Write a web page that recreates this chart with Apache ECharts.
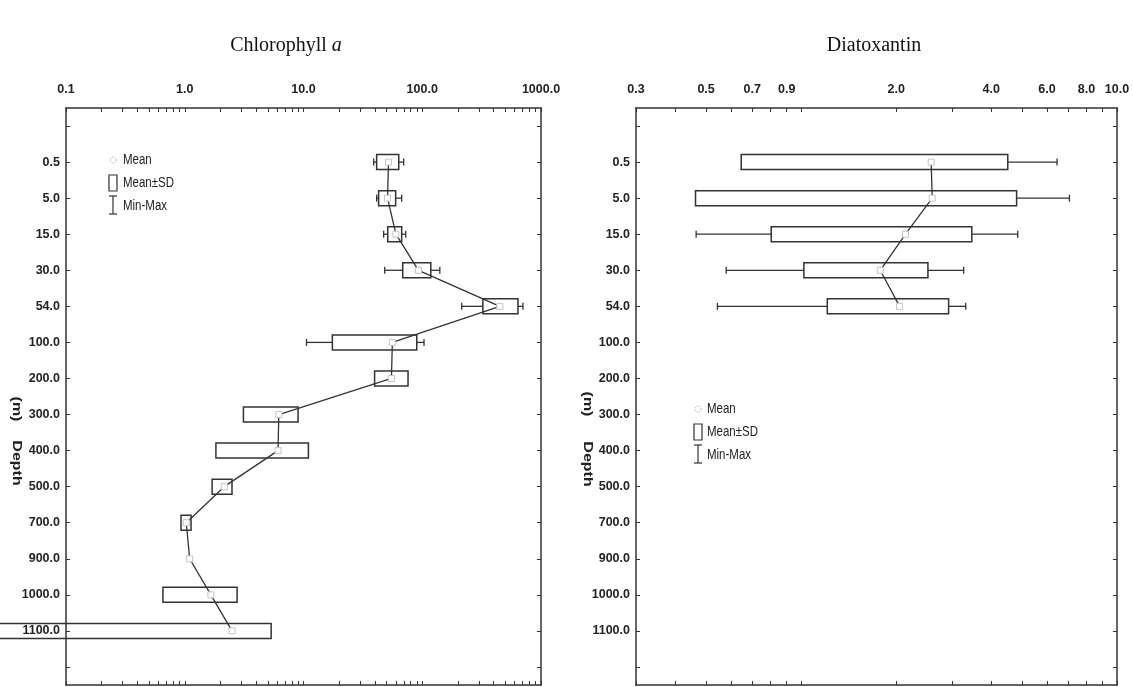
<!DOCTYPE html>
<html>
<head>
<meta charset="utf-8">
<title>Chlorophyll a / Diatoxantin</title>
<script src="https://cdn.jsdelivr.net/npm/echarts@6.0.0/dist/echarts.min.js"></script>
<style>
	html, body { margin: 0; padding: 0; background: #fff; }
	#main { width: 1133px; height: 687px; }
</style>
</head>
<body>
<div id="main"></div>
<script>
/* depth categories (first and last are empty slots) */
var depthLabels = ['', '0.5', '5.0', '15.0', '30.0', '54.0', '100.0', '200.0', '300.0', '400.0', '500.0', '700.0', '900.0', '1000.0', '1100.0', ''];

/* Chlorophyll a */
var chlMean   = [52, 51, 60, 93, 450, 56, 55, 6.2, 6.1, 2.15, 1.03, 1.10, 1.66, 2.50];
var chlSdLow  = [41.3, 42.9, 51.2, 68.5, 324, 17.5, 39.7, 3.12, 1.83, 1.70, 0.93, null, 0.655, 0.02];
var chlSdHigh = [63.4, 59.7, 67.1, 118, 640, 89.9, 75.9, 9.0, 11.0, 2.50, 1.13, null, 2.76, 5.34];
var chlMin    = [39.0, 41.3, 47.3, 48.3, 215, 10.6, null, null, null, null, null, null, null, null];
var chlMax    = [69.8, 67.1, 72.6, 140.6, 705, 103.5, null, null, null, null, null, null, null, null];

/* Diatoxantin */
var diaMean   = [2.58, 2.60, 2.14, 1.78, 2.05];
var diaSdLow  = [0.646, 0.463, 0.804, 1.02, 1.21];
var diaSdHigh = [4.51, 4.81, 3.47, 2.52, 2.93];
var diaMin    = [null, null, 0.465, 0.579, 0.543];
var diaMax    = [6.46, 7.07, 4.85, 3.27, 3.32];

/* tick marks and tick labels */
var chlTicks = [0.1, 0.2, 0.3, 0.4, 0.5, 0.6, 0.7, 0.8, 0.9, 1, 2, 3, 4, 5, 6, 7, 8, 9, 10, 20, 30, 40, 50, 60, 70, 80, 90, 100, 200, 300, 400, 500, 600, 700, 800, 900, 1000];
var chlTickLabels = [0.1, 1, 10, 100, 1000];
var diaTicks = [0.3, 0.4, 0.5, 0.6, 0.7, 0.8, 0.9, 1, 2, 3, 4, 5, 6, 7, 8, 9, 10];
var diaTickLabels = [0.3, 0.5, 0.7, 0.9, 2, 4, 6, 8, 10];

var sans = "'Liberation Sans', Arial, sans-serif";
var serif = "'Liberation Serif', 'Times New Roman', serif";
var ink = '#333';

function rows(lo, hi, mn, mx) {
	var out = [];
	for (var i = 0; i < lo.length; i++) {
		if (lo[i] == null) continue;
		out.push([i + 1, lo[i], hi[i], mn[i], mx[i]]);
	}
	return out;
}

function meanRows(m) {
	return m.map(function (v, i) { return [v, i + 1]; });
}

/* box = mean±SD, whiskers = min-max */
function renderBox(params, api) {
	var cat = api.value(0);
	var y = api.coord([1, cat])[1];
	var lo = api.coord([api.value(1), cat])[0];
	var hi = api.coord([api.value(2), cat])[0];
	var mn = api.value(3), mx = api.value(4);
	var h = 7.5, c = 3.5;
	var st = { stroke: ink, lineWidth: 1.3 };
	var kids = [{
		type: 'rect',
		shape: { x: lo, y: y - h, width: hi - lo, height: 2 * h },
		style: { fill: 'none', stroke: ink, lineWidth: 1.5 }
	}];
	if (!isNaN(mn) && mn != null) {
		var xm = api.coord([mn, cat])[0];
		kids.push({ type: 'line', shape: { x1: xm, y1: y, x2: lo, y2: y }, style: st });
		kids.push({ type: 'line', shape: { x1: xm, y1: y - c, x2: xm, y2: y + c }, style: st });
	}
	if (!isNaN(mx) && mx != null) {
		var xx = api.coord([mx, cat])[0];
		kids.push({ type: 'line', shape: { x1: hi, y1: y, x2: xx, y2: y }, style: st });
		kids.push({ type: 'line', shape: { x1: xx, y1: y - c, x2: xx, y2: y + c }, style: st });
	}
	return { type: 'group', children: kids };
}

function fmt(v) { return Number(v).toFixed(1); }

function topAxis(grid, min, max, ticks, labels) {
	return {
		type: 'log', logBase: 10, gridIndex: grid, position: 'top', min: min, max: max,
		axisLine: { show: true, lineStyle: { color: ink, width: 1.5 } },
		axisTick: { show: true, inside: true, length: 4, customValues: ticks, lineStyle: { color: ink } },
		axisLabel: {
			show: true, customValues: labels, formatter: fmt, margin: 12,
			fontFamily: sans, fontSize: 12.5, fontWeight: 'bold', color: '#222'
		},
		splitLine: { show: false }, minorTick: { show: false }
	};
}

function bottomAxis(grid, min, max, ticks) {
	return {
		type: 'log', logBase: 10, gridIndex: grid, position: 'bottom', min: min, max: max,
		axisLine: { show: true, lineStyle: { color: ink, width: 1.5 } },
		axisTick: { show: true, inside: true, length: 4, customValues: ticks, lineStyle: { color: ink } },
		axisLabel: { show: false },
		splitLine: { show: false }
	};
}

function depthAxis(grid, side) {
	return {
		type: 'category', gridIndex: grid, position: side, inverse: true,
		data: depthLabels, boundaryGap: true,
		axisLine: { show: true, lineStyle: { color: ink, width: 1.5 } },
		axisTick: { show: true, inside: true, length: 4, alignWithLabel: true, interval: 0, lineStyle: { color: ink } },
		axisLabel: {
			show: side === 'left', interval: 0, margin: 6,
			fontFamily: sans, fontSize: 12.5, fontWeight: 'bold', color: '#222'
		},
		splitLine: { show: false }
	};
}

function legendGraphic(sx, tx, y0) {
	var txt = { fontFamily: sans, fontSize: 14, fill: '#222', align: 'left', verticalAlign: 'middle' };
	var st = { stroke: ink, lineWidth: 1.2, fill: 'none' };
	return [
		{ type: 'circle', shape: { cx: sx + 5, cy: y0, r: 3 }, style: { stroke: '#999', lineWidth: 1, lineDash: [1, 1.5], fill: 'none' } },
		{ type: 'text', x: tx, y: y0, scaleX: 0.82, style: Object.assign({ text: 'Mean' }, txt) },
		{ type: 'rect', shape: { x: sx + 1, y: y0 + 15, width: 8, height: 16 }, style: st },
		{ type: 'text', x: tx, y: y0 + 23, scaleX: 0.82, style: Object.assign({ text: 'Mean±SD' }, txt) },
		{ type: 'polyline', shape: { points: [[sx + 1, y0 + 36], [sx + 9, y0 + 36]] }, style: st },
		{ type: 'polyline', shape: { points: [[sx + 5, y0 + 36], [sx + 5, y0 + 54]] }, style: st },
		{ type: 'polyline', shape: { points: [[sx + 1, y0 + 54], [sx + 9, y0 + 54]] }, style: st },
		{ type: 'text', x: tx, y: y0 + 46, scaleX: 0.82, style: Object.assign({ text: 'Min-Max' }, txt) }
	];
}

function depthName(x, yUnit, yWord) {
	var txt = { fontFamily: sans, fontSize: 16, fontWeight: 'bold', fill: '#222', align: 'center', verticalAlign: 'middle' };
	return [
		{ type: 'text', x: x, y: yUnit, rotation: -Math.PI / 2, scaleY: 0.85, style: Object.assign({ text: '(m)' }, txt) },
		{ type: 'text', x: x, y: yWord, rotation: -Math.PI / 2, scaleY: 0.85, style: Object.assign({ text: 'Depth' }, txt) }
	];
}

var myChart = echarts.init(document.getElementById('main'));
var option = {
	animation: false,
	backgroundColor: '#fff',
	title: [{
		text: 'Chlorophyll {i|a}', left: 281, top: 31, textAlign: 'center',
		textStyle: {
			fontFamily: serif, fontSize: 20, fontWeight: 'normal', color: '#111',
			rich: { i: { fontFamily: serif, fontSize: 20, fontStyle: 'italic', color: '#111' } }
		}
	}, {
		text: 'Diatoxantin', left: 869, top: 31, textAlign: 'center',
		textStyle: { fontFamily: serif, fontSize: 20, fontWeight: 'normal', color: '#111' }
	}],
	grid: [
		{ left: 66, right: 592, top: 108, bottom: 2 },
		{ left: 636, right: 16, top: 108, bottom: 2 }
	],
	xAxis: [
		topAxis(0, 0.1, 1000, chlTicks, chlTickLabels),
		bottomAxis(0, 0.1, 1000, chlTicks),
		topAxis(1, 0.3, 10, diaTicks, diaTickLabels),
		bottomAxis(1, 0.3, 10, diaTicks)
	],
	yAxis: [
		depthAxis(0, 'left'),
		depthAxis(0, 'right'),
		depthAxis(1, 'left'),
		depthAxis(1, 'right')
	],
	series: [{
		name: 'Mean±SD', type: 'custom', xAxisIndex: 0, yAxisIndex: 0, clip: false,
		encode: { y: 0, x: [1, 2, 3, 4] },
		data: rows(chlSdLow, chlSdHigh, chlMin, chlMax),
		renderItem: renderBox, z: 2, silent: true
	}, {
		name: 'Mean', type: 'line', xAxisIndex: 0, yAxisIndex: 0,
		data: meanRows(chlMean),
		symbol: 'rect', symbolSize: 6,
		lineStyle: { color: ink, width: 1.3 },
		itemStyle: { color: '#fff', borderColor: '#c4c4c4', borderWidth: 1 },
		z: 3, silent: true
	}, {
		name: 'Mean±SD', type: 'custom', xAxisIndex: 2, yAxisIndex: 2, clip: false,
		encode: { y: 0, x: [1, 2, 3, 4] },
		data: rows(diaSdLow, diaSdHigh, diaMin, diaMax),
		renderItem: renderBox, z: 2, silent: true
	}, {
		name: 'Mean', type: 'line', xAxisIndex: 2, yAxisIndex: 2,
		data: meanRows(diaMean),
		symbol: 'rect', symbolSize: 6,
		lineStyle: { color: ink, width: 1.3 },
		itemStyle: { color: '#fff', borderColor: '#c4c4c4', borderWidth: 1 },
		z: 3, silent: true
	}],
	graphic: [].concat(
		legendGraphic(108, 123, 160),
		legendGraphic(693, 707, 409),
		depthName(17, 409, 463),
		depthName(588, 404, 464)
	)
};
myChart.setOption(option);
</script>
</body>
</html>
